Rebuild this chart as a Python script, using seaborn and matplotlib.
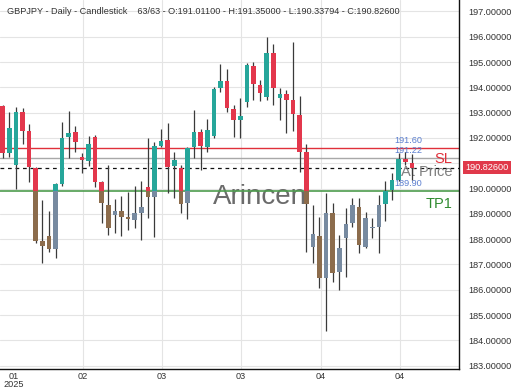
import numpy as np
import pandas as pd
import matplotlib
matplotlib.use("Agg")
import matplotlib.pyplot as plt
import matplotlib.transforms as mtransforms
import seaborn as sns

# ---------------- data ----------------
opens = [193.28, 191.42, 190.93, 193.02, 192.28, 190.80, 187.93, 188.14, 187.61, 190.17,
         192.03, 192.25, 191.26, 191.10, 192.05, 190.27, 189.35, 188.96, 189.13, 188.87,
         188.76, 189.05, 190.05, 189.66, 191.70, 191.92, 190.89, 190.80, 189.42, 191.66,
         192.25, 191.66, 192.09, 193.99, 194.26, 193.15, 192.71, 193.43, 194.86, 194.09,
         193.60, 195.35, 193.57, 193.73, 193.50, 192.91, 191.43, 187.70, 188.14, 186.48,
         189.02, 186.72, 188.04, 188.63, 189.28, 187.70, 188.44, 188.49, 189.39, 189.94,
         190.34, 191.16, 191.011]
highs = [193.30, 193.04, 193.21, 193.17, 192.55, 190.85, 189.55, 189.13, 190.20, 192.64,
         193.07, 192.47, 191.42, 192.09, 192.12, 190.30, 190.93, 189.58, 189.71, 189.88,
         190.10, 190.30, 191.99, 191.85, 192.34, 192.58, 191.43, 190.93, 191.65, 193.11,
         192.36, 192.75, 194.03, 194.91, 194.73, 193.30, 193.59, 194.95, 194.99, 194.29,
         196.00, 195.70, 193.96, 193.90, 195.78, 193.66, 191.75, 189.35, 188.89, 189.81,
         189.42, 188.17, 189.22, 189.62, 189.64, 189.09, 188.83, 189.75, 190.31, 190.63,
         191.40, 191.45, 191.35]
lows = [191.20, 191.26, 189.98, 191.76, 190.27, 187.85, 187.05, 187.51, 187.25, 190.12,
        191.20, 191.46, 190.63, 190.89, 190.08, 188.65, 188.17, 188.23, 188.13, 188.36,
        188.43, 187.97, 188.83, 188.10, 191.65, 189.81, 189.62, 189.04, 188.79, 191.22,
        190.74, 191.43, 191.99, 193.83, 193.04, 192.05, 191.99, 193.24, 193.50, 193.46,
        193.50, 193.30, 192.71, 192.19, 192.28, 190.67, 187.51, 187.05, 186.08, 184.37,
        186.32, 185.99, 186.52, 188.49, 187.44, 187.64, 188.05, 187.44, 188.70, 189.55,
        190.30, 190.95, 190.33794]
closes = [191.40, 192.38, 193.04, 192.29, 190.84, 187.93, 187.74, 187.61, 190.17, 191.99,
          192.19, 191.85, 191.13, 191.76, 190.27, 189.42, 188.43, 189.13, 188.89, 188.79,
          189.02, 189.26, 189.68, 191.68, 191.89, 190.87, 191.13, 189.40, 191.62, 192.25,
          191.70, 192.32, 193.94, 194.26, 193.20, 192.71, 192.88, 194.89, 194.12, 193.77,
          195.35, 193.99, 193.73, 193.50, 192.94, 191.46, 189.39, 188.19, 186.48, 189.02,
          186.65, 187.66, 188.59, 189.35, 187.77, 188.83, 188.47, 189.35, 189.92, 190.34,
          191.16, 191.04, 190.826]

sl_level = 191.60
entry_level = 191.22
tp1_level = 189.90
last_price = 190.826

x_tick_pos = [1.7, 12.2, 24.1, 36.1, 48.2, 60.2]
x_tick_labels = ["01\n2025", "02", "03", "03", "04", "04"]
y_ticks = list(range(183, 198))

title_text = ("GBPJPY - Daily - Candlestick    63/63 - O:191.01100 - H:191.35000 - "
              "L:190.33794 - C:190.82600")

# ---------------- style ----------------
sns.set_theme(style="white")
plt.rcParams["font.family"] = ["Liberation Sans", "DejaVu Sans"]

GREEN = "#26a69a"
RED = "#e3374c"
GREEN_MUTED = "#778aa0"
RED_MUTED = "#8c6c4c"
WICK = "#3a3a3a"
MUTE_BEFORE = 58

df = pd.DataFrame({"open": opens, "high": highs, "low": lows, "close": closes})
df["idx"] = np.arange(len(df))
df["up"] = df["close"] >= df["open"]

fig = plt.figure(figsize=(5.2, 3.9), dpi=100)
ax = fig.add_axes([0, 21 / 390, 459 / 520, 369 / 390])

ax.set_xlim(-0.41, 69.14)
ax.set_ylim(182.87, 197.45)

# grid
ax.set_yticks(y_ticks)
ax.set_yticklabels([f"{v:.5f}" for v in y_ticks])
ax.set_xticks(x_tick_pos)
ax.set_xticklabels(x_tick_labels)
ax.grid(True, color="#e4e4e4", linewidth=0.8)
ax.get_xgridlines()[0].set_visible(False)
ax.set_axisbelow(True)

# watermark
ax.text(39.0, 189.65, "Arincen", fontsize=20, color="#6b6b6b", ha="center",
        va="center", zorder=1)

# levels
ax.axhline(sl_level, color="#e0303a", linewidth=1.0, zorder=2)
ax.axhline(entry_level, color="#a8a8a8", linewidth=1.0, zorder=2)
ax.axhline(last_price, color="#111111", linewidth=0.9, linestyle=(0, (3, 3)), zorder=2)
ax.axhline(tp1_level, color="#4e9c4e", linewidth=1.2, zorder=2)

# level labels (drawn under the candles, as in the reference)
ax.text(68.1, sl_level - 0.42, "SL", fontsize=10.5, color="#e0303a", ha="right",
        va="center", zorder=2.5)
ax.text(68.1, last_price - 0.16, "At Price", fontsize=10.5, color="#808080", ha="right",
        va="center", zorder=2.5)
ax.text(68.1, tp1_level - 0.5, "TP1", fontsize=10.5, color="#2f8a2f", ha="right",
        va="center", zorder=2.5)
ax.text(59.4, sl_level + 0.3, f"{sl_level:.2f}", fontsize=6.6, color="#5b7fd0",
        ha="left", va="center", zorder=2.5)
ax.text(59.4, entry_level + 0.3, f"{entry_level:.2f}", fontsize=6.6, color="#5b7fd0",
        ha="left", va="center", zorder=2.5)
ax.text(59.4, tp1_level + 0.28, f"{tp1_level:.2f}", fontsize=6.6, color="#5b7fd0",
        ha="left", va="center", zorder=2.5)

# candles
width = 0.68
ax.vlines(df["idx"], df["low"], df["high"], color=WICK, linewidth=0.9, zorder=3)
for _, r in df.iterrows():
    lo, hi = min(r.open, r.close), max(r.open, r.close)
    if hi - lo < 0.03:
        hi = lo + 0.03
    col = GREEN if r.up else RED
    mcol = GREEN_MUTED if r.up else RED_MUTED
    if r.idx < MUTE_BEFORE:
        if hi > tp1_level:
            b = max(lo, tp1_level)
            ax.bar(r.idx, hi - b, bottom=b, width=width, color=col, linewidth=0, zorder=4)
        if lo < tp1_level:
            t = min(hi, tp1_level)
            ax.bar(r.idx, t - lo, bottom=lo, width=width, color=mcol, linewidth=0, zorder=4)
    else:
        ax.bar(r.idx, hi - lo, bottom=lo, width=width, color=col, linewidth=0, zorder=4)

# axes styling
for s in ["left", "top"]:
    ax.spines[s].set_visible(False)
for s in ["right", "bottom"]:
    ax.spines[s].set_visible(True)
    ax.spines[s].set_color("#111111")
    ax.spines[s].set_linewidth(1.0)
ax.yaxis.tick_right()
ax.tick_params(axis="y", length=0, pad=7, labelsize=6.6, labelcolor="#333333")
ax.tick_params(axis="x", length=0, pad=2, labelsize=6.6, labelcolor="#333333")
for lab in ax.get_xticklabels():
    lab.set_linespacing(0.95)

# last price tag
trans = mtransforms.blended_transform_factory(ax.transAxes, ax.transData)
ax.text(1.0 + 6 / 459, last_price, f"{last_price:.5f}", transform=trans, fontsize=6.6,
        color="white", ha="left", va="center", clip_on=False, zorder=10,
        bbox=dict(boxstyle="square,pad=0.25", facecolor="#e0394a", edgecolor="none"))

fig.text(7 / 520, 1 - 12 / 390, title_text, fontsize=6.6, color="#333333",
         ha="left", va="center")

fig.savefig("out.png", dpi=100)
